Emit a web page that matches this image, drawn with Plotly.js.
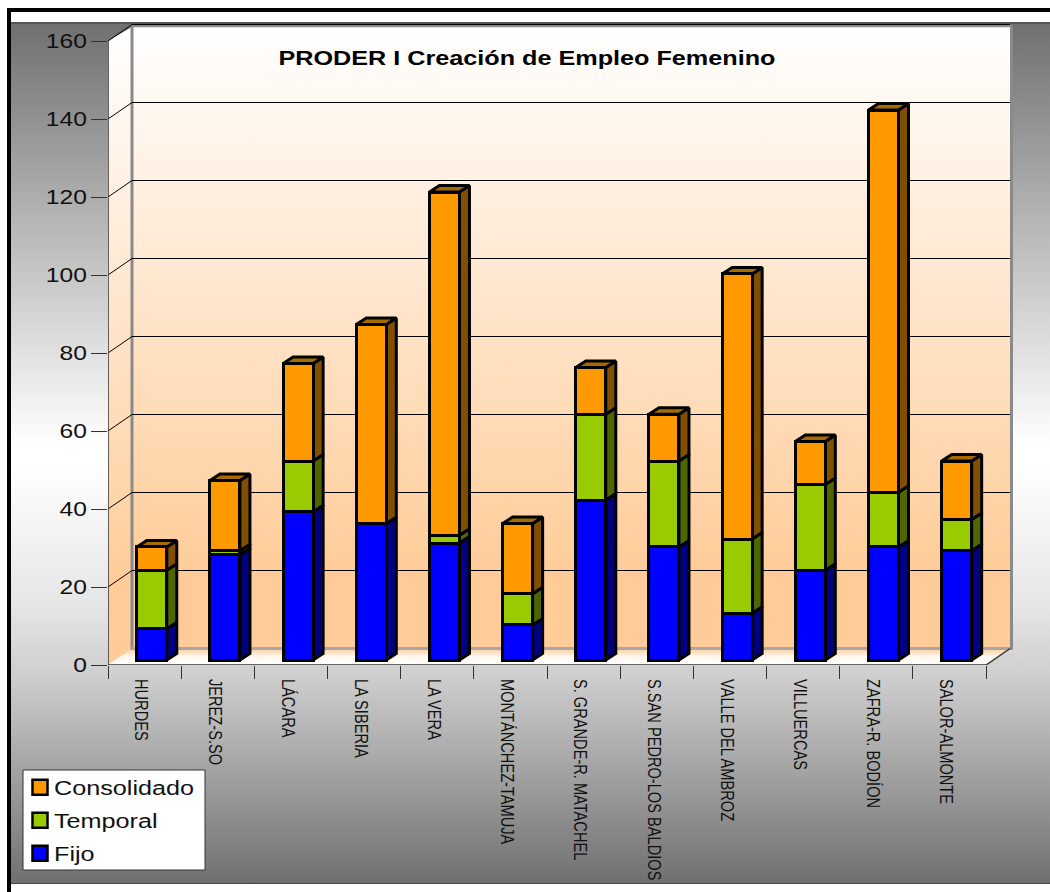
<!DOCTYPE html>
<html><head><meta charset="utf-8">
<script src="https://cdn.plot.ly/plotly-3.0.1.min.js"></script>
<style>
html,body{margin:0;padding:0;background:#fff;width:1050px;height:892px;overflow:hidden}
#panel{position:absolute;left:11px;top:22px;width:1039px;height:862px;box-sizing:border-box;
 border-top:2px solid #555;border-bottom:1px solid #444;
 background:linear-gradient(to bottom,#707070 0,#b3b3b3 190px,#ffffff 420px,#ffffff 440px,#e6e6e6 580px,#cfcfcf 650px,#707070 100%)}
#frame{position:absolute;left:7px;top:8px;width:1043px;height:884px;box-sizing:border-box;border-left:4px solid #000;border-top:4px solid #000}
#chart{position:absolute;left:0;top:0;width:1050px;height:892px}
</style></head><body>
<div id="panel"></div><div id="frame"></div><div id="chart"></div>
<script>
const categories=['HURDES','JEREZ-S.SO','LÁCARA','LA SIBERIA','LA VERA','MONTÁNCHEZ-TAMUJA','S. GRANDE-R. MATACHEL','S.SAN PEDRO-LOS BALDIOS','VALLE DEL AMBROZ','VILLUERCAS','ZAFRA-R. BODÍON','SALOR-ALMONTE'];
const fijo=[8,27,38,35,30,9,41,29,12,23,29,28];
const temporal=[15,1,13,0,2,8,22,22,19,22,14,8];
const consolidado=[6,18,25,51,88,18,12,12,68,11,98,15];
const yTicks=[0,20,40,60,80,100,120,140,160];
const chartTitle='PRODER I Creación de Empleo Femenino';

// depth geometry of the fake 3D box, in axis units (73.17 px per category, 3.9 px per unit)
const xMax=11.882, yMax=642/3.9;
const wallDx=0.328, wallDy=4.231, wallTop=163.6, wallRight=11.5+wallDx;
const barShift=0.098, barWidth=0.41, barLift=1.28, barDx=0.137, barDy=1.67;

const hidden={hoverinfo:'skip',showlegend:false,xaxis:'x',yaxis:'y',cliponaxis:false};
function poly(xs,ys,color,extra){return Object.assign({type:'scatter',mode:'lines',x:xs,y:ys,fill:'toself',fillcolor:color,line:{width:0}},hidden,extra||{});}
function grad(stops){return {type:'vertical',colorscale:stops};}

const wallBack=poly([-0.5+wallDx,wallRight,wallRight,-0.5+wallDx,-0.5+wallDx],[wallDy,wallDy,wallTop,wallTop,wallDy],'#fff',{fillgradient:grad([[0,'#FFCC99'],[0.12,'#FFCC99'],[1,'#FFFFFF']])});
const wallLeft=poly([-0.5,-0.5+wallDx,-0.5+wallDx,-0.5,-0.5],[0,wallDy,wallTop,160,0],'#fff',{fillgradient:grad([[0,'#FFCC99'],[0.12,'#FFCC99'],[1,'#FFFFFF']])});
const floor=poly([-0.5,11.5,wallRight,-0.5+wallDx,-0.5],[0,0,wallDy,wallDy,0],'#fff',{fillgradient:grad([[0,'#FFFFFF'],[0.5,'#FFF8F0'],[1,'#FFCC99']])});

const wallEdge={type:'scatter',mode:'lines',x:[-0.5+wallDx,-0.5+wallDx,wallRight+0.02],y:[wallDy-0.3,wallTop+0.3,wallTop+0.3],line:{color:'#8a8a8a',width:3},...hidden};
const wallEdgeB={type:'scatter',mode:'lines',x:[-0.5+wallDx,wallRight],y:[wallDy,wallDy],line:{color:'#a8a8a8',width:3},...hidden};
const wallEdgeR={type:'scatter',mode:'lines',x:[wallRight+0.02,wallRight+0.02],y:[wallDy-0.3,wallTop+0.3],line:{color:'#8a8a8a',width:3},...hidden};

const gx=[],gy=[];
yTicks.filter(v=>v>0).forEach(v=>{gx.push(-0.5,-0.5+wallDx,wallRight,null);gy.push(v,v+wallDy,v+wallDy,null);});
const grid={type:'scatter',mode:'lines',x:gx,y:gy,line:{color:'#000',width:1},...hidden};
const axisLines={type:'scatter',mode:'lines',x:[-0.5,-0.5,11.5,wallRight],y:[160,0,0,wallDy],line:{color:'#333',width:1.5},...hidden};

function sideFaces(lower,upper,color){
  const xs=[],ys=[];
  categories.forEach((c,i)=>{
    if(upper[i]===lower[i])return;
    const a=i+barShift+barWidth/2,b=a+barDx,y0=lower[i]+barLift,y1=upper[i]+barLift;
    xs.push(a,b,b,a,a,null);ys.push(y0,y0+barDy,y1+barDy,y1,y0,null);
  });
  return {type:'scatter',mode:'lines',x:xs,y:ys,fill:'toself',fillcolor:color,line:{color:'#000',width:3},...hidden};
}
const t1=fijo.map((v,i)=>v+temporal[i]);
const t2=t1.map((v,i)=>v+consolidado[i]);
const zero=fijo.map(()=>0);
const topX=[],topY=[];
categories.forEach((c,i)=>{
  const l=i+barShift-barWidth/2,r=i+barShift+barWidth/2,y=t2[i]+barLift;
  topX.push(l,r,r+barDx,l+barDx,l,null);topY.push(y,y,y+barDy,y+barDy,y,null);
});
const topFaces={type:'scatter',mode:'lines',x:topX,y:topY,fill:'toself',fillcolor:'#A56A00',line:{color:'#000',width:3},...hidden};

function bars(name,values,color){
  return {type:'bar',name:name,x:categories,y:values,xaxis:'x2',yaxis:'y2',width:barWidth,offset:barShift-barWidth/2,
    legendgroup:name,marker:{color:color,line:{color:'#000',width:3}},hoverinfo:'x+y+name'};
}

const data=[wallBack,wallLeft,floor,wallEdge,wallEdgeB,wallEdgeR,grid,axisLines,
  sideFaces(zero,fijo,'#000080'),sideFaces(fijo,t1,'#4D6600'),sideFaces(t1,t2,'#804F00'),topFaces,
  bars('Fijo',fijo,'#0000FF'),bars('Temporal',temporal,'#99CC00'),bars('Consolidado',consolidado,'#FF9900')];

const font='"Liberation Sans",Arial,sans-serif';
const layout={
  width:1050,height:892,paper_bgcolor:'rgba(0,0,0,0)',plot_bgcolor:'rgba(0,0,0,0)',
  margin:{l:108,r:36,t:23,b:227,pad:0,autoexpand:false},barmode:'stack',bargap:0.59,showlegend:true,
  title:{text:chartTitle,x:527/1050,xanchor:'center',xref:'container',y:1-58/892,yanchor:'middle',yref:'container',font:{family:font,size:21,weight:700,color:'#000'}},
  xaxis:{type:'linear',range:[-0.5,xMax],visible:false,fixedrange:true},
  yaxis:{type:'linear',range:[0,yMax],tickmode:'array',tickvals:yTicks,ticktext:yTicks.map(String),ticks:'outside',ticklen:16,tickwidth:1,tickcolor:'#333',
    showgrid:false,zeroline:false,showline:false,tickfont:{family:font,size:20.5,color:'#111'},fixedrange:true},
  xaxis2:{type:'category',categoryorder:'array',categoryarray:categories,range:[-0.5,xMax],overlaying:'x',anchor:'y',side:'bottom',tickson:'boundaries',ticks:'outside',ticklen:13,tickwidth:1,tickcolor:'#333',
    tickangle:90,ticklabelstandoff:13,ticklabelshift:-3,showgrid:false,zeroline:false,showline:false,automargin:false,tickfont:{family:font,size:19,color:'#111'},fixedrange:true},
  yaxis2:{type:'linear',range:[-barLift,yMax-barLift],overlaying:'y',anchor:'x2',visible:false,fixedrange:true},
  legend:{xref:'container',yref:'container',x:14/1050,y:1-767/892,xanchor:'left',yanchor:'top',bgcolor:'rgba(0,0,0,0)',borderwidth:0,
    traceorder:'reversed',font:{family:font,size:21,color:'#111'},itemsizing:'constant'},
  shapes:[{type:'rect',xref:'paper',yref:'paper',layer:'above',
    x0:(23-108)/906,x1:(205-108)/906,y0:-(870-665)/642,y1:-(770-665)/642,fillcolor:'#fff',line:{color:'#333',width:1}}]
};
function stretch(selector,factor){
  document.querySelectorAll(selector).forEach(t=>{
    const x=parseFloat(t.getAttribute('x'))||0,y=parseFloat(t.getAttribute('y'))||0;
    t.setAttribute('transform',(t.getAttribute('transform')||'')+` translate(${x},${y}) scale(${factor},1) translate(${-x},${-y})`);
  });
}
Plotly.newPlot('chart',data,layout,{displayModeBar:false,responsive:false}).then(()=>{
  // the reference's lettering is stretched horizontally and squeezed on the x labels
  stretch('.gtitle',1.2);
  stretch('.ytick text',1.2);
  stretch('.legendtext',1.2);
  stretch('.x2tick text',0.77);
  document.querySelectorAll('.legend .legendpoints').forEach(g=>{
    g.setAttribute('transform',(g.getAttribute('transform')||'')+' translate(1,0) scale(1.25)');
  });
  // widen the legend's clip and open up its rows to the reference's 33 px pitch
  document.querySelectorAll('.legend [clip-path], .legend').forEach(n=>n.removeAttribute('clip-path'));
  const rows=[...document.querySelectorAll('.legend .traces')].sort((a,b)=>a.getBoundingClientRect().top-b.getBoundingClientRect().top);
  const first=rows[0].getBoundingClientRect().top;
  rows.forEach((r,i)=>{
    const shift=first+i*33-r.getBoundingClientRect().top;
    r.setAttribute('transform',(r.getAttribute('transform')||'')+` translate(0,${shift})`);
  });
});
</script>
</body></html>
